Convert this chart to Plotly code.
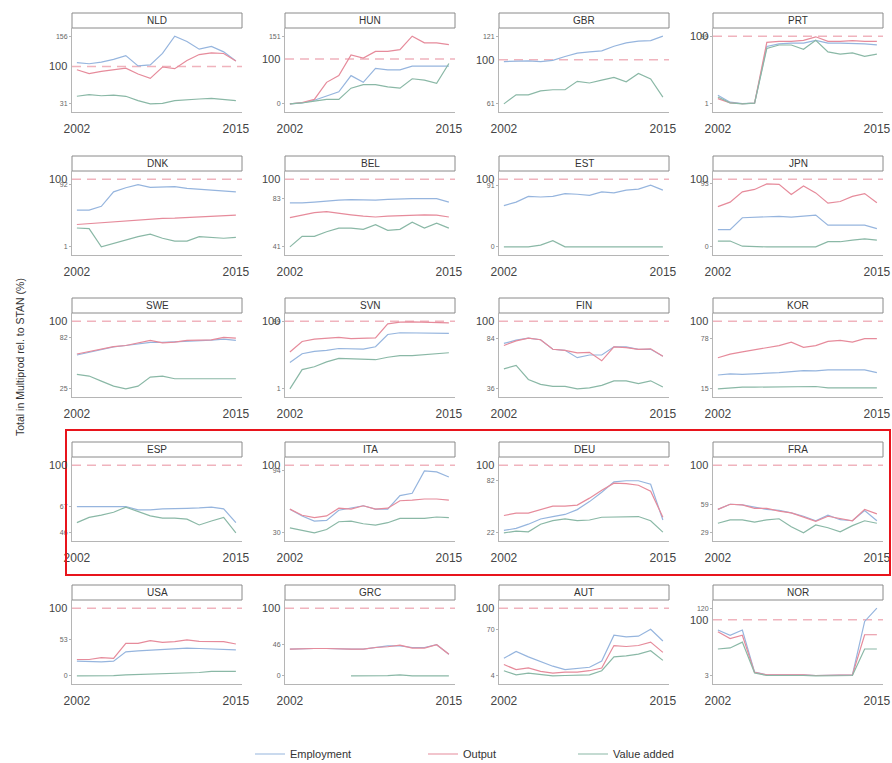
import plotly.graph_objects as go

years = list(range(2002, 2016))

# Coverage of Multiprod totals relative to STAN (%), by country and series
nld_emp = [107, 105, 108, 113, 120, 101, 103, 124, 156, 146, 132, 137, 127, 110]
nld_out = [94, 87, 91, 94, 97, 86, 78, 99, 96, 111, 122, 125, 124, 110]
nld_va = [45, 48, 46, 47, 45, 37, 31, 32, 37, 39, 40, 41, 39, 37]

hun_emp = [0, 2, 8, 18, 27, 63, 48, 79, 76, 76, 84, 84, 84, 84]
hun_out = [0, 3, 10, 48, 63, 109, 102, 117, 117, 121, 151, 136, 136, 132]
hun_va = [0, 2, 6, 10, 10, 35, 43, 43, 38, 35, 56, 53, 46, 90]

gbr_emp = [98.5, 99, 99, 98.5, 99.5, 103, 106, 107, 108, 112, 115, 116.5, 117, 121]
gbr_out = [None] * 14
gbr_va = [61, 69, 69, 72.5, 73.5, 73.5, 81, 79.5, 82, 84.5, 80.5, 88, 83, 67]

prt_emp = [13.7, 3.5, 1.5, 2, 84.8, 88.8, 89.8, 89.8, 93.9, 89.8, 89.8, 89.8, 88.8, 87.3]
prt_out = [8.6, 2.5, 1.2, 2, 90.8, 92.4, 92.4, 93.9, 99, 92.4, 92.4, 93.4, 92.4, 92.4]
prt_va = [11, 2.5, 1, 2, 82, 87, 87, 80.7, 93.9, 77, 73.6, 75.6, 70.5, 73.6]

dnk_emp = [54.8, 54.8, 60.3, 81.4, 87.4, 92, 87.9, 87.9, 88.9, 86.4, 84.9, 83.9, 82.9, 81.4]
dnk_out = [33.7, 35, 36, 37.5, 39, 40, 41.5, 42.5, 43, 44, 45, 46, 46.5, 47.5]
dnk_va = [28.6, 27.6, 1, 6, 11, 16, 19.6, 13.6, 9.5, 9.5, 16, 14.6, 13.6, 15]

bel_emp = [79.3, 79.3, 80, 81.2, 81.8, 82.1, 81.8, 81.8, 82.4, 83, 83, 83, 83, 80]
bel_out = [66.5, 68.6, 70.8, 71.7, 70.1, 68.9, 67.7, 67, 67.7, 68.3, 68.6, 68.9, 68.6, 67]
bel_va = [41, 50.2, 50.2, 54.2, 57.3, 57.3, 56.3, 60.3, 55.4, 56.3, 62.5, 57.3, 61.6, 57.3]

est_emp = [61, 66, 74.6, 73.6, 74.6, 78.7, 77.7, 76, 81.2, 79.7, 83.8, 85.3, 91, 83.8]
est_out = [None] * 14
est_va = [0, 0, 0, 2.5, 9, 0, 0, 0, 0, 0, 0, 0, 0, 0]

jpn_emp = [25.4, 25.4, 43, 44, 45, 45, 44, 46, 47, 32, 32, 33, 32, 27]
jpn_out = [59.4, 66, 81.2, 84.8, 93, 92.4, 77.2, 89.8, 79.7, 64.5, 67, 74.6, 78.7, 65]
jpn_va = [8.6, 8.6, 1, 0, 0, 0, 0, 0, 0, 7.6, 7.6, 10, 11.7, 10]

swe_emp = [62.5, 65.5, 69, 71.5, 73, 74.5, 76.5, 76.5, 77, 78, 78.3, 79, 80, 78.6]
swe_out = [63.6, 66.2, 69.2, 71.8, 73, 75.6, 78.6, 76, 76.7, 78.6, 78.6, 79.3, 82, 81.2]
swe_va = [41, 39.2, 33.6, 28, 25, 28, 38.1, 39.2, 36.2, 36.2, 36.2, 36.2, 36.6, 36.2]

svn_emp = [39.5, 52.3, 55.9, 57.4, 60, 60, 59, 62.5, 80.5, 83, 83, 83, 82, 82]
svn_out = [54.8, 70.2, 73.8, 75.4, 76.4, 74.3, 74.3, 75.4, 95.9, 98.5, 99, 98.5, 99, 97.5]
svn_va = [1, 29.2, 33.3, 40.5, 45.6, 44.6, 43.6, 43.6, 47.2, 49.7, 49.7, 50.7, 52.3, 53.8]

fin_emp = [79, 82, 84, 82.4, 73.4, 72.4, 65.5, 68, 68, 75.7, 75.7, 73.4, 73.4, 66.8]
fin_out = [77, 81.4, 84, 82.4, 73.4, 72.4, 70, 70.5, 62.5, 75.7, 75, 73.4, 73.8, 66.8]
fin_va = [54.9, 58.2, 44.9, 40.3, 38.3, 38.3, 36, 37, 39.3, 43.6, 43.6, 41, 43.6, 37.7]

kor_emp = [32.4, 33.7, 33.3, 33.7, 34.6, 35.4, 36.7, 38, 37.6, 38.9, 38.9, 38.9, 38.9, 35.4]
kor_out = [54.1, 58.5, 61.5, 64.1, 67.2, 69.3, 73.7, 67.2, 69.3, 74.6, 75.9, 73.7, 78, 78]
kor_va = [15, 16.3, 17.2, 17.2, 17.2, 17.2, 17.2, 17.2, 18, 16.3, 16.3, 15.9, 16.3, 16.3]

esp_emp = [67, 67, 67, 67, 67, 64.3, 64.3, 65.1, 65.1, 65.6, 65.9, 66.5, 65.1, 54.2]
esp_out = [None] * 14
esp_va = [54.2, 58.3, 60.2, 62.4, 66.5, 63.2, 59.6, 57.7, 57.7, 56.9, 52.3, 55.5, 58.3, 46]

ita_emp = [54.5, 47.5, 42.2, 42.9, 53.4, 55.5, 58, 54.5, 54.5, 68.5, 70.9, 94, 93, 87.8]
ita_out = [54.5, 48.2, 45.7, 47.5, 55.5, 54.5, 58, 54.5, 55.5, 63.2, 63.9, 65, 65, 63.9]
ita_va = [35.2, 32.4, 30, 33.5, 41.5, 42.2, 39.4, 38, 40.5, 45, 45, 45, 46.4, 45.7]

deu_emp = [24.8, 27.2, 32, 38, 40.8, 43.2, 48.8, 58, 68.8, 80.8, 82, 82, 78, 36.8]
deu_out = [42, 44.8, 44.8, 48.8, 52.8, 52.8, 54, 62, 71.2, 79.2, 78.8, 76.8, 70, 40]
deu_va = [22, 24, 23.2, 32, 36, 38, 36, 36.8, 40, 40, 40, 40.8, 36, 22.8]

fra_emp = [53.6, 59, 58.3, 56.1, 53.6, 52.5, 50, 46.4, 41.7, 47.5, 42.8, 41.7, 52.5, 41.7]
fra_out = [53.6, 59, 58.3, 54.7, 54.7, 51.8, 50, 45.3, 41, 46.4, 43.8, 41.7, 53.6, 48.9]
fra_va = [39.1, 42.7, 42.7, 40.2, 42.7, 43.8, 35.5, 29, 37.3, 34.4, 30.1, 36.6, 41.7, 39.1]

usa_emp = [21.7, 20.7, 20.7, 21.7, 35.4, 36.9, 37.9, 39.4, 40.9, 40.9, 40.4, 39.4, 38.4, 38.4]
usa_out = [24.2, 24.2, 26.8, 25.8, 48, 48, 52, 49.5, 50.5, 53, 51, 51, 50.5, 47]
usa_va = [0, 0, 0, 0.5, 1.5, 2, 2.5, 2.5, 3.5, 4, 5, 6.6, 6.6, 6.6]

grc_emp = [39.4, 40.4, 40.4, 40.4, 39.4, 39.4, 39.4, 41.9, 44.4, 44.4, 41.9, 41.9, 46, 31.8]
grc_out = [39.4, 40.4, 40.4, 40.4, 39.4, 39.4, 39.4, 41.9, 43, 45.5, 41, 41, 46, 31.8]
grc_va = [None, None, None, None, None, 0, 0, 0, 0.5, 1.5, 0, 0, 0, 0]

aut_emp = [28.9, 38.7, 30.9, 24, 17.7, 12.8, 14.3, 16.2, 25, 61.7, 59.3, 60.2, 70, 53.4]
aut_out = [20.1, 12.8, 15.2, 10.4, 7.9, 9.4, 9.4, 11.3, 15.2, 47, 45.6, 47, 51.9, 37.3]
aut_va = [11.3, 5.5, 7.9, 5.5, 4, 4.5, 5.5, 5.5, 11.3, 30.9, 32.4, 34.8, 39.7, 26]

nor_emp = [82.2, 73.2, 82.2, 9.5, 4.8, 4.8, 6, 4.8, 3.6, 3.6, 3.6, 4.8, 97, 120]
nor_out = [79.2, 67.3, 73.2, 9, 4.8, 4.8, 6, 4.8, 3.6, 3.6, 3.6, 4.8, 74, 74]
nor_va = [49.4, 51.2, 61.3, 7.8, 3.6, 3.6, 4.5, 3.6, 3, 3, 3, 3.6, 49.4, 49.4]

panels = [
    ("NLD", nld_emp, nld_out, nld_va), ("HUN", hun_emp, hun_out, hun_va),
    ("GBR", gbr_emp, gbr_out, gbr_va), ("PRT", prt_emp, prt_out, prt_va),
    ("DNK", dnk_emp, dnk_out, dnk_va), ("BEL", bel_emp, bel_out, bel_va),
    ("EST", est_emp, est_out, est_va), ("JPN", jpn_emp, jpn_out, jpn_va),
    ("SWE", swe_emp, swe_out, swe_va), ("SVN", svn_emp, svn_out, svn_va),
    ("FIN", fin_emp, fin_out, fin_va), ("KOR", kor_emp, kor_out, kor_va),
    ("ESP", esp_emp, esp_out, esp_va), ("ITA", ita_emp, ita_out, ita_va),
    ("DEU", deu_emp, deu_out, deu_va), ("FRA", fra_emp, fra_out, fra_va),
    ("USA", usa_emp, usa_out, usa_va), ("GRC", grc_emp, grc_out, grc_va),
    ("AUT", aut_emp, aut_out, aut_va), ("NOR", nor_emp, nor_out, nor_va),
]

series_names = ["Employment", "Output", "Value added"]
series_colors = ["#96b5de", "#e68b9b", "#8ab8a6"]
legend_ids = ["legend", "legend2", "legend3"]
legend_x = [250, 423, 573]

W, H = 892, 763
col_left = [72, 285, 499, 713]
panel_w = 170
row_top = [28, 171, 313, 457, 600]
panel_h = 84
strip_h = 15
FONT = "Liberation Sans, Arial, sans-serif"

fig = go.Figure()
shapes, annotations = [], []
layout_axes = {}

for i, (code, emp, out, va) in enumerate(panels):
    r, c = divmod(i, 4)
    n = i + 1
    sfx = "" if n == 1 else str(n)
    xa, ya = f"x{sfx}", f"y{sfx}"

    left = col_left[c]
    top = row_top[r]
    x0, x1 = left / W, (left + panel_w) / W
    y1, y0 = 1 - top / H, 1 - (top + panel_h) / H

    vals = [v for s in (emp, out, va) for v in s if v is not None]
    lo, hi = min(vals), max(vals)
    a, b = min(lo, 100), max(hi, 100)
    pad = 0.12 * (b - a)

    for k, (name, ys) in enumerate(zip(series_names, (emp, out, va))):
        fig.add_trace(go.Scatter(
            x=years, y=ys, mode="lines", name=name,
            line=dict(color=series_colors[k], width=1.2),
            xaxis=xa, yaxis=ya, showlegend=(i == 0), legend=legend_ids[k],
            connectgaps=False, hoverinfo="skip",
        ))

    layout_axes[f"xaxis{sfx}"] = dict(
        domain=[x0, x1], anchor=ya, range=[2001.6, 2015.5], automargin=False,
        tickvals=[2002, 2015], ticktext=["2002", "2015"],
        showgrid=False, zeroline=False, showline=True,
        linecolor="#b5b5b5", linewidth=1, ticks="",
        tickfont=dict(size=12, color="#444", family=FONT),
        ticklabelstandoff=6,
    )
    layout_axes[f"yaxis{sfx}"] = dict(
        domain=[y0, y1], anchor=xa, range=[a - pad, b + pad], automargin=False,
        tickvals=[lo, hi], ticktext=[f"{round(lo)}", f"{round(hi)}"],
        showgrid=False, zeroline=False, showline=True,
        linecolor="#b5b5b5", linewidth=1, ticks="outside", ticklen=2,
        tickcolor="#b5b5b5", tickfont=dict(size=7, color="#666", family=FONT),
    )

    # reference line at 100 %
    shapes.append(dict(
        type="line", xref=f"{xa} domain", yref=ya, x0=0, x1=1, y0=100, y1=100,
        line=dict(color="#f0b3bd", width=1.5, dash="9px,6px"), layer="below",
    ))
    annotations.append(dict(
        x=x0, y=100, xref="paper", yref=ya, text="100", showarrow=False,
        xanchor="right", yanchor="middle", xshift=-3,
        font=dict(size=11, color="#444", family=FONT),
    ))

    # facet strip
    shapes.append(dict(
        type="rect", xref="paper", yref="paper",
        x0=x0, x1=x1, y0=1 - top / H, y1=1 - (top - strip_h) / H,
        line=dict(color="#8a8a8a", width=1), fillcolor="white",
    ))
    annotations.append(dict(
        x=(x0 + x1) / 2, y=1 - (top - strip_h / 2) / H, xref="paper", yref="paper",
        text=code, showarrow=False, xanchor="center", yanchor="middle",
        font=dict(size=10, color="#333", family=FONT),
    ))

# highlighted row
shapes.append(dict(
    type="rect", xref="paper", yref="paper",
    x0=66 / W, x1=890 / W, y0=1 - 575 / H, y1=1 - 430 / H,
    line=dict(color="#e8141c", width=2), fillcolor="rgba(0,0,0,0)",
))

annotations.append(dict(
    x=20 / W, y=1 - 357 / H, xref="paper", yref="paper",
    text="Total in Multiprod rel. to STAN (%)", textangle=-90, showarrow=False,
    xanchor="center", yanchor="middle",
    font=dict(size=10.5, color="#333", family=FONT),
))

legend_common = dict(
    orientation="h", yanchor="middle", xanchor="left", y=1 - 754 / H,
    xref="container", yref="container",
    font=dict(size=11, color="#333", family=FONT), bgcolor="rgba(0,0,0,0)",
    borderwidth=0,
)
legend_layout = {lid: dict(legend_common, x=lx / W) for lid, lx in zip(legend_ids, legend_x)}

fig.update_layout(
    width=W, height=H, margin=dict(l=0, r=0, t=0, b=0, autoexpand=False),
    paper_bgcolor="white", plot_bgcolor="white",
    font=dict(family=FONT), shapes=shapes, annotations=annotations,
    **legend_layout, **layout_axes,
)

fig.write_html("out.html")
